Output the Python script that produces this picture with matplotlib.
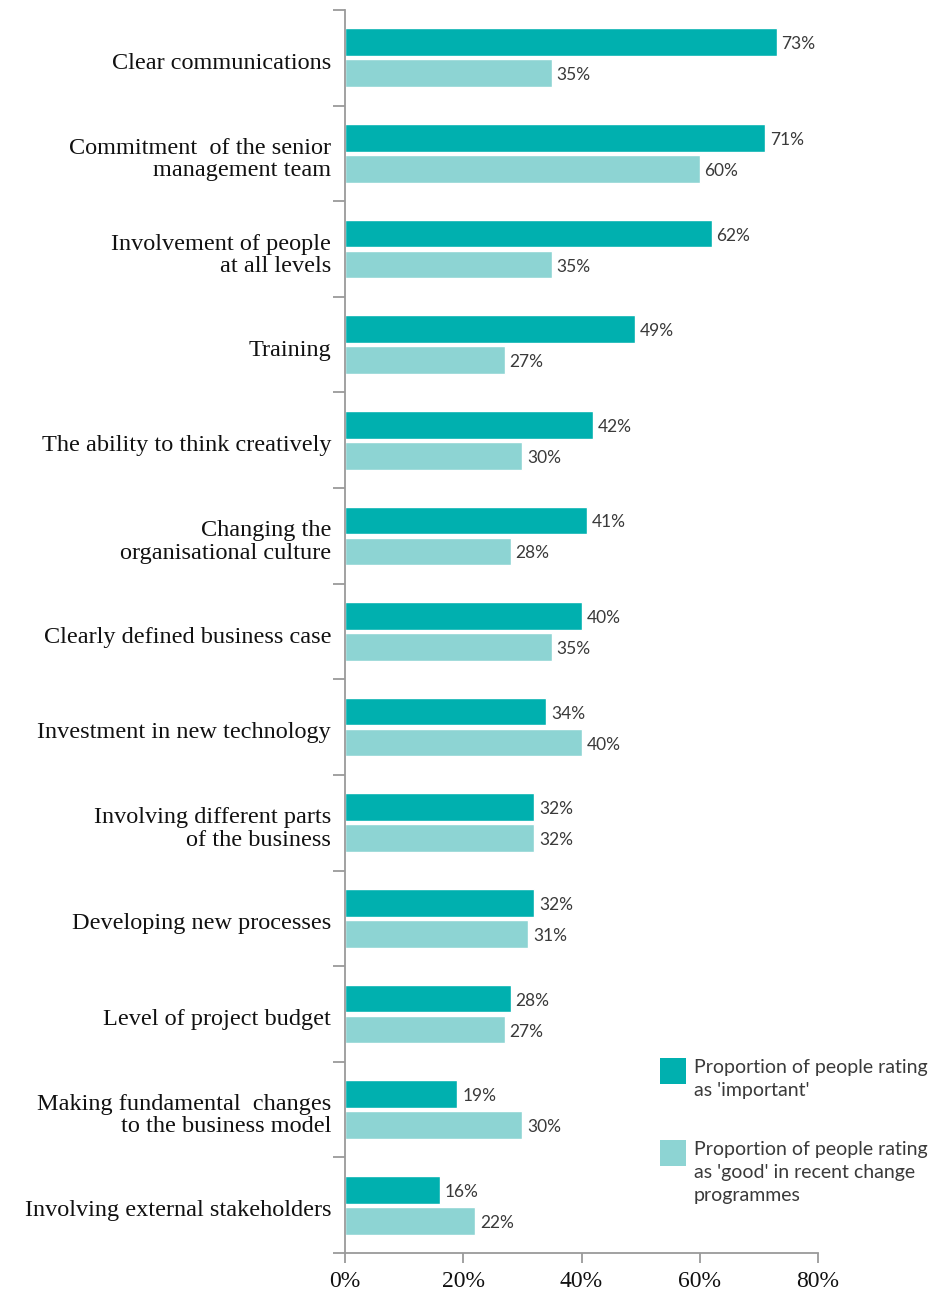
import matplotlib
matplotlib.use("Agg")
import matplotlib.pyplot as plt
from matplotlib.patches import Rectangle
from matplotlib.transforms import ScaledTranslation
import numpy as np

categories = [
    "Clear communications",
    "Commitment  of the senior\nmanagement team",
    "Involvement of people\nat all levels",
    "Training",
    "The ability to think creatively",
    "Changing the\norganisational culture",
    "Clearly defined business case",
    "Investment in new technology",
    "Involving different parts\nof the business",
    "Developing new processes",
    "Level of project budget",
    "Making fundamental  changes\nto the business model",
    "Involving external stakeholders",
]
important = [73, 71, 62, 49, 42, 41, 40, 34, 32, 32, 28, 19, 16]
good = [35, 60, 35, 27, 30, 28, 35, 40, 32, 31, 27, 30, 22]
series_names = [
    "Proportion of people rating\nas 'important'",
    "Proportion of people rating\nas 'good' in recent change\nprogrammes",
]
xticks = [0, 20, 40, 60, 80]
xticklabels = ["0%", "20%", "40%", "60%", "80%"]

c_dark = "#00B0AF"
c_light = "#8DD4D3"
grey = "#9a9a9a"
txt_grey = "#3a3a3a"
serif = ["Liberation Serif", "DejaVu Serif"]
sans = ["Lato", "DejaVu Sans"]

W, H = 948, 1295
fig = plt.figure(figsize=(W / 100, H / 100), dpi=100)
ax = fig.add_axes([345 / W, (H - 1253) / H, (818 - 345) / W, (1253 - 10) / H])

y = np.arange(len(categories))
bh = 0.29
off = 0.162
ax.barh(y - off, important, height=bh, color=c_dark, edgecolor="white", linewidth=1.0)
ax.barh(y + off, good, height=bh, color=c_light, edgecolor="white", linewidth=1.0)

for yi, v in zip(y, important):
    ax.annotate(f"{v}%", (v, yi - off), xytext=(3.5, -1.5), textcoords="offset points",
                va="center", ha="left", fontsize=12.5, family=sans,
                color=txt_grey)
for yi, v in zip(y, good):
    ax.annotate(f"{v}%", (v, yi + off), xytext=(3.5, -1.5), textcoords="offset points",
                va="center", ha="left", fontsize=12.5, family=sans,
                color=txt_grey)

ax.set_xlim(0, 80)
ax.set_ylim(len(categories) - 0.5, -0.5)

ax.set_yticks(y)
ax.set_yticklabels(categories, family=serif, fontsize=17.5, color="#111111",
                   linespacing=1.08)
ax.tick_params(axis="y", which="major", length=0, pad=10)
ax.set_yticks(np.arange(-0.5, len(categories), 1.0), minor=True)
ax.tick_params(axis="y", which="minor", length=9, width=1.3, color=grey)
shift = ScaledTranslation(0, -3 / 100, fig.dpi_scale_trans)
for lab in ax.get_yticklabels():
    lab.set_transform(lab.get_transform() + shift)

ax.set_xticks(xticks)
ax.set_xticklabels(xticklabels, family=serif, fontsize=17, color="#111111")
ax.tick_params(axis="x", length=7, width=1.3, color=grey, pad=6)

for s in ["top", "right"]:
    ax.spines[s].set_visible(False)
for s in ["left", "bottom"]:
    ax.spines[s].set_color(grey)
    ax.spines[s].set_linewidth(1.3)

# legend (manual)
for (top_px, col, name) in [(1058, c_dark, series_names[0]), (1140, c_light, series_names[1])]:
    fig.add_artist(Rectangle((660 / W, (H - top_px - 26) / H), 26 / W, 26 / H,
                             transform=fig.transFigure, facecolor=col, edgecolor="none"))
    fig.text(694 / W, (H - top_px - 1) / H, name, ha="left", va="top", fontsize=14,
             family=sans, color=txt_grey, linespacing=1.42)

fig.savefig("out.png", dpi=100)
